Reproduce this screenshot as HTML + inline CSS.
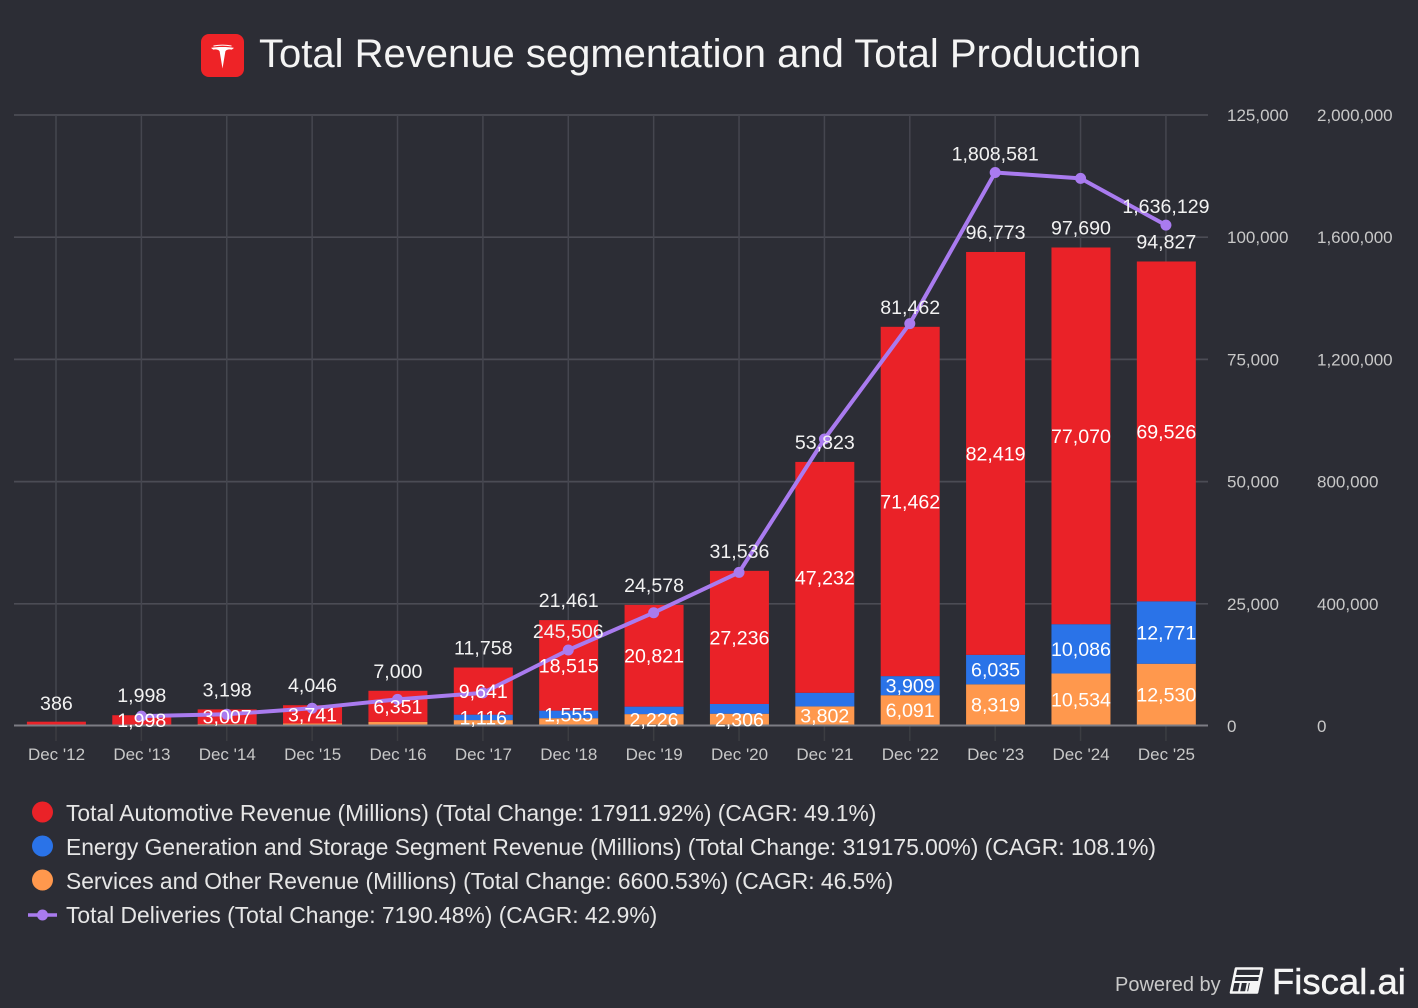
<!DOCTYPE html>
<html lang="en">
<head>
<meta charset="utf-8">
<title>Total Revenue segmentation and Total Production</title>
<style>
html,body{margin:0;padding:0;background:#2c2d35;width:1418px;height:1008px;overflow:hidden}
svg{display:block;font-family:"Liberation Sans",Arial,sans-serif}
</style>
</head>
<body>
<svg id="chart" width="1418" height="1008" viewBox="0 0 1418 1008" xmlns="http://www.w3.org/2000/svg">
  <rect x="0" y="0" width="1418" height="1008" fill="#2c2d35"/>
  <g>
    <rect x="201" y="34" width="43" height="43" rx="8" fill="#ee2327"/>
    <path d="M222.5 68.5 L219.6 51.2 C218.6 49.4 215.4 49 213.2 49.6 L211 47.9 C217 46.7 228 46.7 234 47.9 L231.8 49.6 C229.6 49 226.4 49.4 225.4 51.2 Z" fill="#fff"/>
    <path d="M213.5 46 Q222.5 44.2 231.5 46" fill="none" stroke="#fff" stroke-width="1"/>
  </g>
  <text x="259" y="67" font-size="40" fill="#f4f4f4">Total Revenue segmentation and Total Production</text>
  <g id="grid"></g>
  <g id="bars"></g>
  <g id="series-line"></g>
  <g id="labels"></g>
  <g id="axes"></g>

  <g font-size="22.84" fill="#e6e6e6">
    <g>
      <circle cx="42.5" cy="812" r="10.5" fill="#ea2228"/>
      <text x="66" y="821">Total Automotive Revenue (Millions) (Total Change: 17911.92%) (CAGR: 49.1%)</text>
    </g>
    <g>
      <circle cx="42.5" cy="846" r="10.5" fill="#2a73e8"/>
      <text x="66" y="855">Energy Generation and Storage Segment Revenue (Millions) (Total Change: 319175.00%) (CAGR: 108.1%)</text>
    </g>
    <g>
      <circle cx="42.5" cy="880" r="10.5" fill="#ff984d"/>
      <text x="66" y="889">Services and Other Revenue (Millions) (Total Change: 6600.53%) (CAGR: 46.5%)</text>
    </g>
    <g>
      <line x1="28" y1="915" x2="57" y2="915" stroke="#a97bef" stroke-width="3.5"/>
      <circle cx="42.5" cy="915" r="5.5" fill="#a97bef"/>
      <text x="66" y="923">Total Deliveries (Total Change: 7190.48%) (CAGR: 42.9%)</text>
    </g>
  </g>

  <g>
    <text x="1115" y="991" font-size="20" fill="#c9c9c9">Powered by</text>
    <g>
      <path d="M1236 968.5 H1262 L1257 992.5 H1231 Z" fill="none" stroke="#f5f5f5" stroke-width="2.6" stroke-linejoin="round"/>
      <path d="M1235 976 H1260 M1233.5 982 H1259 M1241 982 L1239 992 M1248 982 L1246 992" fill="none" stroke="#f5f5f5" stroke-width="2"/>
      <path d="M1250 982 H1259 L1257 992 H1248 Z" fill="#f5f5f5"/>
    </g>
    <text x="1272" y="994" font-size="36.5" fill="#f5f5f5" stroke="#f5f5f5" stroke-width="0.5">Fiscal.ai</text>
  </g>
</svg>
<script>
const categories = ["Dec '12","Dec '13","Dec '14","Dec '15","Dec '16","Dec '17","Dec '18","Dec '19","Dec '20","Dec '21","Dec '22","Dec '23","Dec '24","Dec '25"];
const automotive = [386,1998,3007,3741,6351,9641,18515,20821,27236,47232,71462,82419,77070,69526];
const energy = [0,0,0,0,0,1116,1555,1531,1994,2789,3909,6035,10086,12771];
const services = [0,0,191,305,649,1001,1391,2226,2306,3802,6091,8319,10534,12530];
const totals = [386,1998,3198,4046,7000,11758,21461,24578,31536,53823,81462,96773,97690,94827];
const deliveries = [null,29000,35000,55000,84000,105000,245506,367500,499550,936172,1313851,1808581,1789226,1636129];
const energyLabelShown = [false,false,false,false,false,true,true,false,false,false,true,true,true,true];
const servicesLabelShown = [false,false,false,false,false,false,false,true,true,true,true,true,true,true];
const deliveryLabelShown = [false,false,false,false,false,false,true,false,false,false,false,true,false,true];
const revenueTicks = [0,25000,50000,75000,100000,125000];
const deliveryTicks = [0,400000,800000,1200000,1600000,2000000];

const NS = 'http://www.w3.org/2000/svg';
const plotTop = 115, plotBottom = 726, markBottom = 725, plotLeft = 14, plotRight = 1208;
const revenueMax = revenueTicks[revenueTicks.length - 1];
const deliveryMax = deliveryTicks[deliveryTicks.length - 1];
const barWidth = 59;
const barMinHeight = 3.3;
const labelSize = 19.6;
const xAxis = i => 56 + 85.38 * i;
const yRevenue = v => markBottom - (v / revenueMax) * (plotBottom - plotTop);
const yDelivery = v => markBottom - (v / deliveryMax) * (plotBottom - plotTop);
const yGrid = v => plotBottom - (v / revenueMax) * (plotBottom - plotTop);
const fmt = v => v.toLocaleString('en-US');

function make(tag, parent, attrs, text) {
  const node = document.createElementNS(NS, tag);
  for (const k in attrs) node.setAttribute(k, attrs[k]);
  if (text !== undefined) node.textContent = text;
  parent.appendChild(node);
  return node;
}

const gridG = document.getElementById('grid');
const barsG = document.getElementById('bars');
const lineG = document.getElementById('series-line');
const labelsG = document.getElementById('labels');
const axesG = document.getElementById('axes');

revenueTicks.forEach((t, i) => {
  const y = yGrid(t);
  if (t !== 0) {
    const h = make('line', gridG, {x1: plotLeft, x2: plotRight, y1: y, y2: y, stroke: '#4b4c55', 'stroke-width': 1.7});
    
    
  }
  const a = make('text', axesG, {x: 1227, y: y + 6, 'font-size': 17, fill: '#c8c8c8'}, fmt(t));
  
  
  const b = make('text', axesG, {x: 1317, y: y + 6, 'font-size': 17, fill: '#c8c8c8'}, fmt(deliveryTicks[i]));
  
  
});

categories.forEach((c, i) => {
  const x = xAxis(i);
  const v = make('line', gridG, {x1: x, x2: x, y1: plotTop, y2: plotBottom, stroke: '#45464f', 'stroke-width': 1.5});
  
  
  const tick = make('line', gridG, {x1: x, x2: x, y1: plotBottom, y2: 741, stroke: '#3c3d42', 'stroke-width': 1.5});
  
  
  const t = make('text', axesG, {x: x + 0.5, y: 760, 'font-size': 17, fill: '#c8c8c8', 'text-anchor': 'middle'}, c);
  
  
});

categories.forEach((c, i) => {
  const cx = xAxis(i) + 0.4;
  const left = cx - barWidth / 2;
  const s = services[i], e = energy[i], a = automotive[i];
  if (s > 0) {
    const r = make('rect', barsG, {x: left, y: yRevenue(s), width: barWidth, height: markBottom - yRevenue(s), fill: '#ff984d'});
    
    
  }
  if (e > 0) {
    const r = make('rect', barsG, {x: left, y: yRevenue(s + e), width: barWidth, height: yRevenue(s) - yRevenue(s + e), fill: '#2a73e8'});
    
    
  }
  const redHeight = Math.max(barMinHeight, yRevenue(s + e) - yRevenue(s + e + a));
  const red = make('rect', barsG, {x: left, y: yRevenue(s + e) - redHeight, width: barWidth, height: redHeight, fill: '#ea2228'});
  
  

  const total = make('text', labelsG, {x: cx, y: yRevenue(totals[i]) - 13, 'font-size': labelSize, fill: '#f2f2f2', 'text-anchor': 'middle'}, fmt(totals[i]));
  
  

  if (i > 0) {
    const ay = (yRevenue(s + e) + yRevenue(s + e + a)) / 2;
    const al = make('text', labelsG, {x: cx, y: ay + 7, 'font-size': labelSize, fill: '#fff', 'text-anchor': 'middle'}, fmt(a));
    
    
  }
  if (energyLabelShown[i]) {
    const ey = (yRevenue(s) + yRevenue(s + e)) / 2;
    const el = make('text', labelsG, {x: cx, y: ey + 7, 'font-size': labelSize, fill: '#fff', 'text-anchor': 'middle'}, fmt(e));
    
    
  }
  if (servicesLabelShown[i]) {
    const sy = (markBottom + yRevenue(s)) / 2;
    const sl = make('text', labelsG, {x: cx, y: sy + 7, 'font-size': labelSize, fill: '#fff', 'text-anchor': 'middle'}, fmt(s));
    
    
  }
});

const zero = make('line', lineG, {x1: plotLeft, x2: plotRight, y1: plotBottom - 0.5, y2: plotBottom - 0.5, stroke: '#7c7c84', 'stroke-width': 2});



const pts = [];
deliveries.forEach((d, i) => {
  if (d !== null) pts.push(xAxis(i) + ',' + yDelivery(d));
});
const poly = make('polyline', lineG, {points: pts.join(' '), fill: 'none', stroke: '#a97bef', 'stroke-width': 4, 'stroke-linejoin': 'round'});



deliveries.forEach((d, i) => {
  if (d === null) return;
  const p = make('circle', lineG, {cx: xAxis(i), cy: yDelivery(d), r: 5.5, fill: '#a97bef'});
  
  
  if (deliveryLabelShown[i]) {
    const l = make('text', labelsG, {x: xAxis(i), y: yDelivery(d) - 12, 'font-size': labelSize, fill: '#f2f2f2', 'text-anchor': 'middle'}, fmt(d));
    
    
  }
});
</script>
</body>
</html>
